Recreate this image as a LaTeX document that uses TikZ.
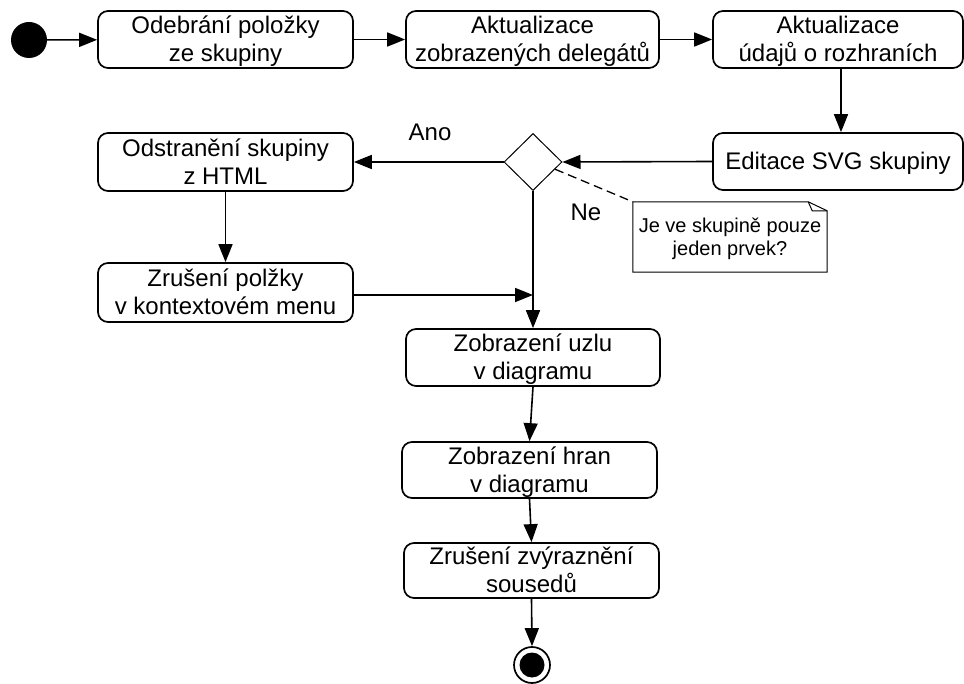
\documentclass[tikz,border=0pt]{standalone}
\usepackage{fontspec}
\setmainfont{Liberation Sans}
\usetikzlibrary{arrows.meta,calc,shapes.geometric}
% line strut: ascent and descent of the sans font
\newcommand{\ls}{\rule[-0.212em]{0pt}{1.117em}}
\begin{document}
\begin{tikzpicture}[x=1pt,y=-1pt,
  act/.style={draw, rounded corners=10pt, line width=1.7pt, align=center,
    inner sep=0pt, minimum width=255pt, minimum height=57pt,
    font=\fontsize{24}{23.5}\selectfont},
  flow/.style={line width=1.6pt, -{Triangle[length=18pt,width=14pt]}},
  lbl/.style={inner sep=0pt, font=\fontsize{24}{24}\selectfont},
  thin/.style={line width=1pt}
]
% canvas
\fill[white] (0,0) rectangle (964,684);
\useasboundingbox (0,0) rectangle (964,684);

% initial and final nodes
\node[circle, fill=black, minimum size=36pt, inner sep=0pt] (start) at (29,40) {};
\node[circle, draw, line width=1.7pt, minimum size=36pt, inner sep=0pt] (end) at (532,665) {};
\fill (end.center) circle (12.5pt);

% actions
\node[act] (b1) at (225.5,39.5) {\ls Odebrání položky\\\ls ze skupiny};
\node[act, minimum width=253pt] (b2) at (532.5,39.5) {\ls Aktualizace\\\ls zobrazených delegátů};
\node[act, minimum width=250pt] (b3) at (838,39.5) {\ls Aktualizace\\\ls údajů o rozhraních};
\node[act, minimum width=250pt] (edit) at (838,161.5) {\ls Editace SVG skupiny};
\node[act, minimum height=58pt] (odst) at (225.5,162) {\ls Odstranění skupiny\\\ls z HTML};
\node[act, minimum height=59pt] (zp) at (225.5,292.5) {\ls Zrušení polžky\\\ls v kontextovém menu};
\node[act, minimum width=254pt] (uzel) at (533,357.5) {\ls Zobrazení uzlu\\\ls v diagramu};
\node[act, minimum height=56pt] (hran) at (529.5,470) {\ls Zobrazení hran\\\ls v diagramu};
\node[act, minimum height=55pt] (zvyr) at (531.5,570.5) {\ls Zrušení zvýraznění\\\ls sousedů};

% decision
\node[diamond, draw, thin, minimum width=58pt, minimum height=57pt, inner sep=0pt] (dec) at (533,162) {};

% note
\node[minimum width=194pt, minimum height=70pt, inner sep=0pt, align=center,
      font=\fontsize{20}{22.5}\selectfont] (note) at (730,237) {\ls Je ve skupině pouze\\\ls jeden prvek?};
\draw[thin] (note.south west) -- (note.north west) -- ($(note.north east)+(-19,0)$)
  -- ($(note.north east)+(0,9)$) -- (note.south east) -- cycle;
\draw[thin] ($(note.north east)+(-19,0)$) -- ($(note.north east)+(-15,9)$) -- ($(note.north east)+(0,9)$);
\draw[line width=1.3pt, dash pattern=on 9pt off 5pt] ($(dec.east)!0.25!(dec.south)$) -- (note.north west);

% guard labels
\node[lbl] (ano) at (430,132) {Ano};
\node[lbl] (ne) at (586,212) {Ne};

% flows
\coordinate (m) at (533,295);
\draw[flow] (start) -- (b1);
\draw[flow] (b1) -- (b2);
\draw[flow] (b2) -- (b3);
\draw[flow] ([xshift=3pt]b3.south) -- ([xshift=3pt]edit.north);
\draw[flow] (edit.west) -- (dec.east);
\draw[flow] (dec.west) -- (odst.east);
\draw[flow] (odst.south) -- (zp.north);
\draw[flow] (zp.east |- m) -- (m);
\draw[flow] (dec.south) -- (uzel.north);
\draw[flow] (uzel.south) -- (hran.north);
\draw[flow] (hran.south) -- (zvyr.north);
\draw[flow] (zvyr.south) -- (end.north);
\end{tikzpicture}
\end{document}
